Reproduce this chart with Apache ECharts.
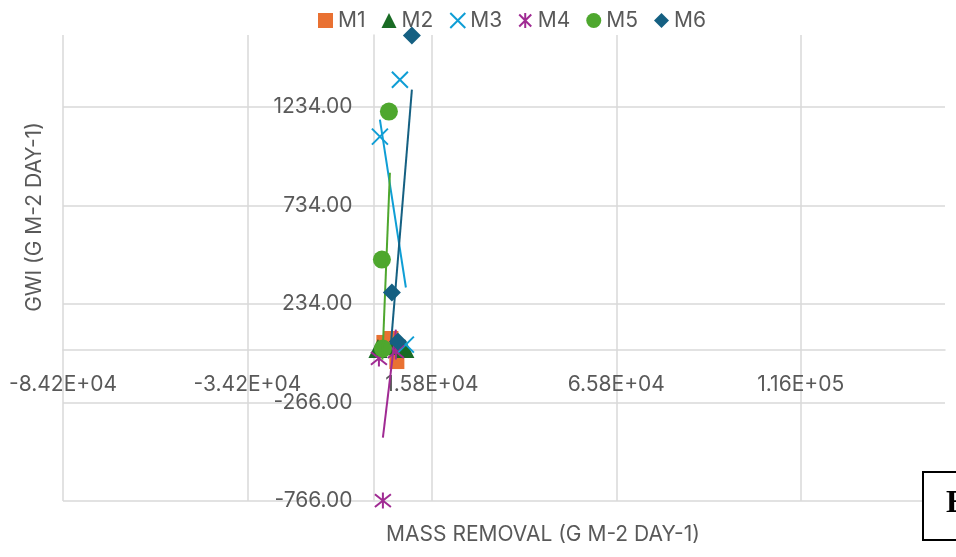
<!DOCTYPE html>
<html><head><meta charset="utf-8">
<script src="https://cdn.jsdelivr.net/npm/echarts@6/dist/echarts.min.js"></script>
<style>html,body{margin:0;padding:0;background:#fff}#c{width:956px;height:557px}</style>
</head><body><div id="c"></div>
<script>
// ---- data ----
const seriesNames = ['M1','M2','M3','M4','M5','M6'];
const seriesColors = ['#E97132','#196B24','#0F9ED5','#A02B93','#4EA72E','#156082'];

const m1X = [2790, 4690, 6310];
const m1Y = [39, 59, -58];
const m2X = [1170, 5770, 8480];
const m2Y = [8, 23, 8];
const m3X = [1710, 7130, 8750];
const m3Y = [1084, 1373, 28];
const m4X = [2520, 1440, 6040];
const m4Y = [-764, -42, -7];
const m5X = [4150, 2250, 2520];
const m5Y = [1211, 460, 8];
const m6X = [10380, 4960, 6590];
const m6Y = [1597, 293, 44];

// linear trendline end points (x, y)
const m1TrendX = [2790, 6310];   const m1TrendY = [23, -7];
const m2TrendX = [1170, 8480];   const m2TrendY = [-2, 23];
const m3TrendX = [1710, 8750];   const m3TrendY = [1170, 318];
const m4TrendX = [2520, 6040];   const m4TrendY = [-444, 104];
const m5TrendX = [2380, 4420];   const m5TrendY = [-48, 901];
const m6TrendX = [4690, 10380];  const m6TrendY = [28, 1323];

// axes
const xMin = -84200, xMax = 154900, xStep = 50000;
const yMin = -766, yMax = 1600, yStep = 500;
const xTitle = 'MASS REMOVAL (G M-2 DAY-1)';
const yTitle = 'GWI (G M-2 DAY-1)';

// ---- build ----
const W = 956, H = 557;
const G = {left: 63, right: 11, top: 35, bottom: 56};
const plotW = W - G.left - G.right, plotH = H - G.top - G.bottom;
// distance of the zero crossing from the grid's left / bottom edges
const yLabelShift = plotW * (0 - xMin) / (xMax - xMin);
const xLabelShift = plotH * (0 - yMin) / (yMax - yMin);

const pts = (xs, ys) => xs.map((x, i) => [x, ys[i]]);
const allX = [m1X, m2X, m3X, m4X, m5X, m6X];
const allY = [m1Y, m2Y, m3Y, m4Y, m5Y, m6Y];
const trendX = [m1TrendX, m2TrendX, m3TrendX, m4TrendX, m5TrendX, m6TrendX];
const trendY = [m1TrendY, m2TrendY, m3TrendY, m4TrendY, m5TrendY, m6TrendY];

const FONT = 'Inter, "Open Sans", sans-serif';
const TXT = '#595959';
const GRIDC = '#d9d9d9';
const symbols = [
  {symbol: 'rect', size: 15, fill: true},
  {symbol: 'triangle', size: 19, fill: true},
  {symbol: 'path://M0,0L10,10M10,0L0,10', size: 16, fill: false},
  {symbol: 'path://M1,1L9,9M9,1L1,9M5,0L5,10', size: 16, fill: false},
  {symbol: 'circle', size: 18, fill: true},
  {symbol: 'diamond', size: 18, fill: true}
];

function sci(v) {
  const s = Number(v).toExponential(2);
  const parts = s.split('e');
  const n = parseInt(parts[1], 10);
  return parts[0] + 'E' + (n < 0 ? '-' : '+') + String(Math.abs(n)).padStart(2, '0');
}

const series = [];
seriesNames.forEach((name, i) => {
  const sym = symbols[i];
  series.push({
    name: name,
    type: 'scatter',
    xAxisIndex: 0, yAxisIndex: 0,
    symbol: sym.symbol,
    symbolSize: sym.size,
    data: pts(allX[i], allY[i]),
    itemStyle: sym.fill
      ? {color: seriesColors[i], opacity: 1}
      : {color: 'rgba(0,0,0,0)', borderColor: seriesColors[i], borderWidth: 2, opacity: 1},
    z: 2 + i * 2
  });
  series.push({
    name: name + ' trend',
    type: 'line',
    xAxisIndex: 0, yAxisIndex: 0,
    data: pts(trendX[i], trendY[i]),
    showSymbol: false,
    symbol: 'none',
    silent: true,
    lineStyle: {color: seriesColors[i], width: 2},
    z: 3 + i * 2
  });
});

const baseAxis = {
  type: 'value',
  axisTick: {show: false}
};

const chart = echarts.init(document.getElementById('c'), null, {renderer: 'canvas'});
chart.setOption({
  animation: false,
  backgroundColor: '#fff',
  grid: Object.assign({containLabel: false, outerBoundsMode: 'none'}, G),
  legend: {
    data: seriesNames,
    top: 5,
    left: 313,
    itemWidth: 15,
    itemHeight: 15,
    itemGap: 16,
    textStyle: {fontFamily: FONT, fontSize: 21, color: TXT}
  },
  xAxis: [
    Object.assign({}, baseAxis, {
      min: xMin, max: xMax, interval: xStep,
      axisLine: {onZero: true, lineStyle: {color: GRIDC, width: 1.5}},
      axisLabel: {show: false},
      splitLine: {lineStyle: {color: GRIDC, width: 1.5}, showMaxLine: false}
    }),
    Object.assign({}, baseAxis, {
      min: xMin, max: xMax, interval: xStep,
      position: 'bottom', offset: -xLabelShift,
      axisLine: {show: false, onZero: false},
      splitLine: {show: false},
      axisLabel: {formatter: sci, color: TXT, fontFamily: FONT, fontSize: 21, margin: 24, showMaxLabel: false}
    })
  ],
  yAxis: [
    Object.assign({}, baseAxis, {
      min: yMin, max: yMax, interval: yStep,
      axisLine: {onZero: true, lineStyle: {color: GRIDC, width: 1.5}},
      axisLabel: {show: false},
      splitLine: {lineStyle: {color: GRIDC, width: 1.5}, showMaxLine: false}
    }),
    Object.assign({}, baseAxis, {
      min: yMin, max: yMax, interval: yStep,
      position: 'left', offset: -yLabelShift,
      axisLine: {show: false, onZero: false},
      splitLine: {show: false},
      axisLabel: {formatter: v => Number(v).toFixed(2), color: TXT, fontFamily: FONT, fontSize: 21, margin: 21, showMaxLabel: false}
    })
  ],
  graphic: [
    {type: 'text', x: 35, y: 217, rotation: Math.PI / 2,
     style: {text: yTitle, fill: TXT, font: '21px ' + FONT, align: 'center', verticalAlign: 'middle'}},
    {type: 'text', x: 543, y: 535,
     style: {text: xTitle, fill: TXT, font: '21px ' + FONT, align: 'center', verticalAlign: 'middle'}},
    {type: 'rect', z: 100, shape: {x: 923, y: 472, width: 60, height: 68},
     style: {fill: '#fff', stroke: '#000', lineWidth: 2}},
    {type: 'text', z: 101, x: 946, y: 504,
     style: {text: 'E', fill: '#000', font: 'bold 32px "Liberation Serif", "DejaVu Serif", serif', align: 'left', verticalAlign: 'middle'}}
  ],
  series: series
});
</script>
</body></html>
